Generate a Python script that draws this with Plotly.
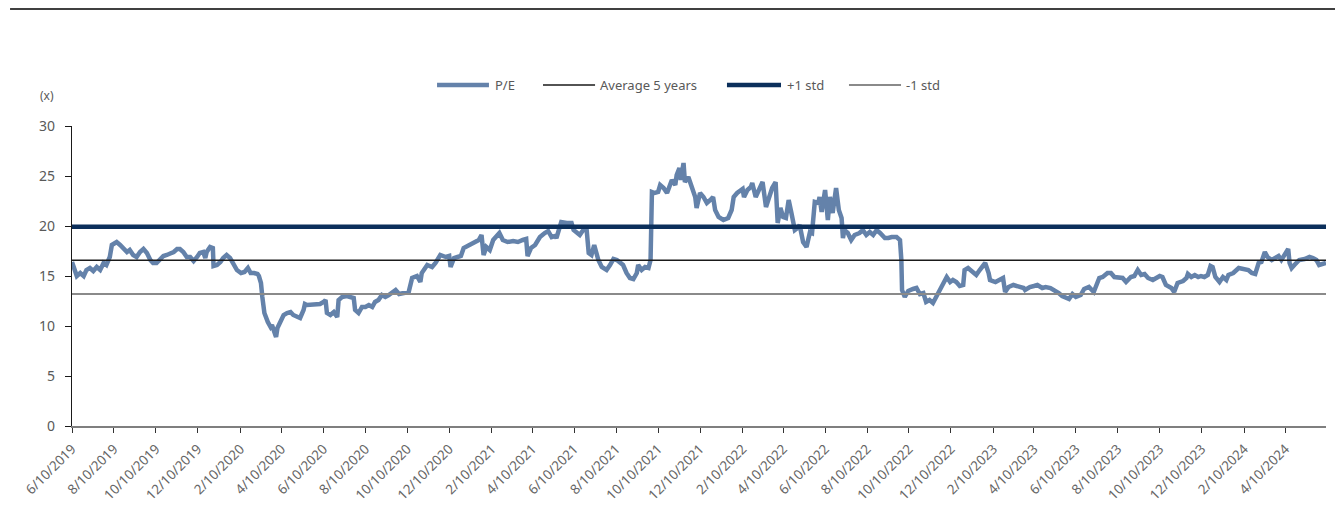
import pandas as pd
import plotly.graph_objects as go

# P/E readings (date, multiple)
pe_dates = [
    "2019-06-10", "2019-06-17", "2019-06-22", "2019-06-27",
    "2019-07-01", "2019-07-06", "2019-07-11", "2019-07-16", "2019-07-21", "2019-07-26", "2019-07-30",
    "2019-08-04", "2019-08-07", "2019-08-14", "2019-08-19", "2019-08-24", "2019-08-29",
    "2019-09-02", "2019-09-07", "2019-09-12", "2019-09-17", "2019-09-22", "2019-09-27",
    "2019-10-02", "2019-10-06", "2019-10-11", "2019-10-16", "2019-10-21", "2019-10-26", "2019-10-31",
    "2019-11-05", "2019-11-10", "2019-11-14", "2019-11-19", "2019-11-24", "2019-11-29",
    "2019-12-04", "2019-12-09", "2019-12-13", "2019-12-18", "2019-12-21", "2019-12-23", "2019-12-28",
    "2020-01-01", "2020-01-02", "2020-01-07", "2020-01-12", "2020-01-16", "2020-01-21", "2020-01-26", "2020-01-31",
    "2020-02-05", "2020-02-11", "2020-02-16", "2020-02-21", "2020-02-25",
    "2020-03-01", "2020-03-06", "2020-03-08", "2020-03-11", "2020-03-13", "2020-03-16", "2020-03-21", "2020-03-25", "2020-03-27", "2020-03-30",
    "2020-04-02", "2020-04-04", "2020-04-09", "2020-04-13", "2020-04-18", "2020-04-23", "2020-04-27",
    "2020-05-02", "2020-05-07", "2020-05-12", "2020-05-14", "2020-05-17", "2020-05-22", "2020-05-27",
    "2020-06-01", "2020-06-05", "2020-06-10", "2020-06-13", "2020-06-15", "2020-06-20", "2020-06-25", "2020-06-30",
    "2020-07-02", "2020-07-07", "2020-07-14", "2020-07-19", "2020-07-24", "2020-07-26", "2020-07-31",
    "2020-08-05", "2020-08-10", "2020-08-15", "2020-08-20", "2020-08-24", "2020-08-29",
    "2020-09-03", "2020-09-08", "2020-09-13", "2020-09-18", "2020-09-23", "2020-09-28",
    "2020-10-05", "2020-10-12", "2020-10-17", "2020-10-24", "2020-10-29", "2020-10-31",
    "2020-11-08", "2020-11-15", "2020-11-20", "2020-11-27",
    "2020-12-05", "2020-12-10", "2020-12-12", "2020-12-17", "2020-12-22", "2020-12-27", "2020-12-31",
    "2021-01-08", "2021-01-15", "2021-01-22", "2021-01-26", "2021-01-29",
    "2021-02-02", "2021-02-07", "2021-02-12", "2021-02-16", "2021-02-21", "2021-02-26",
    "2021-03-05", "2021-03-13", "2021-03-20", "2021-03-27",
    "2021-04-01", "2021-04-03", "2021-04-08", "2021-04-14", "2021-04-21", "2021-04-28",
    "2021-05-03", "2021-05-08", "2021-05-13", "2021-05-15", "2021-05-20", "2021-05-22", "2021-05-30",
    "2021-06-06", "2021-06-09", "2021-06-13", "2021-06-18", "2021-06-23", "2021-06-28",
    "2021-07-01", "2021-07-05", "2021-07-09", "2021-07-12", "2021-07-15", "2021-07-20", "2021-07-27",
    "2021-08-01", "2021-08-06", "2021-08-11", "2021-08-16", "2021-08-20", "2021-08-25", "2021-08-30",
    "2021-09-04", "2021-09-09", "2021-09-11", "2021-09-16", "2021-09-21", "2021-09-26", "2021-09-29",
    "2021-10-01", "2021-10-05", "2021-10-10", "2021-10-13", "2021-10-18", "2021-10-23", "2021-10-27", "2021-10-30",
    "2021-11-04", "2021-11-06", "2021-11-10", "2021-11-12", "2021-11-16", "2021-11-18", "2021-11-23", "2021-11-28",
    "2021-12-03", "2021-12-05", "2021-12-10", "2021-12-15", "2021-12-20", "2021-12-25", "2021-12-29",
    "2022-01-01", "2022-01-06", "2022-01-13", "2022-01-20", "2022-01-25", "2022-01-28",
    "2022-02-02", "2022-02-10", "2022-02-12", "2022-02-17", "2022-02-22", "2022-02-24",
    "2022-03-01", "2022-03-06", "2022-03-11", "2022-03-16", "2022-03-20", "2022-03-25", "2022-03-30",
    "2022-04-02", "2022-04-06", "2022-04-10", "2022-04-14", "2022-04-18", "2022-04-22", "2022-04-27",
    "2022-05-01", "2022-05-04", "2022-05-09", "2022-05-14", "2022-05-19", "2022-05-22", "2022-05-26", "2022-05-31",
    "2022-06-02", "2022-06-05", "2022-06-10", "2022-06-14", "2022-06-17", "2022-06-21", "2022-06-26", "2022-06-30",
    "2022-07-04", "2022-07-06", "2022-07-08", "2022-07-13", "2022-07-18", "2022-07-23", "2022-07-30",
    "2022-08-04", "2022-08-09", "2022-08-14", "2022-08-19", "2022-08-24", "2022-08-29",
    "2022-09-05", "2022-09-10", "2022-09-15", "2022-09-22", "2022-09-27", "2022-09-29", "2022-09-30",
    "2022-10-04", "2022-10-09", "2022-10-16", "2022-10-21", "2022-10-26", "2022-10-31",
    "2022-11-04", "2022-11-09", "2022-11-14", "2022-11-19", "2022-11-24", "2022-11-29",
    "2022-12-04", "2022-12-09", "2022-12-13", "2022-12-18", "2022-12-23", "2022-12-28", "2022-12-30",
    "2023-01-04", "2023-01-11", "2023-01-16", "2023-01-21", "2023-01-29",
    "2023-02-03", "2023-02-05", "2023-02-13", "2023-02-20", "2023-02-24", "2023-02-27",
    "2023-03-04", "2023-03-11", "2023-03-19", "2023-03-26", "2023-03-28",
    "2023-04-04", "2023-04-10", "2023-04-15", "2023-04-22", "2023-04-27",
    "2023-05-04", "2023-05-12", "2023-05-16", "2023-05-21", "2023-05-26", "2023-05-31",
    "2023-06-05", "2023-06-10", "2023-06-17", "2023-06-22", "2023-06-29",
    "2023-07-06", "2023-07-14", "2023-07-19", "2023-07-26", "2023-07-31",
    "2023-08-05", "2023-08-10", "2023-08-17", "2023-08-22", "2023-08-29",
    "2023-09-03", "2023-09-08", "2023-09-13", "2023-09-18", "2023-09-23", "2023-09-30",
    "2023-10-05", "2023-10-10", "2023-10-14", "2023-10-19", "2023-10-27", "2023-10-31",
    "2023-11-05", "2023-11-13", "2023-11-18", "2023-11-20", "2023-11-25", "2023-11-30",
    "2023-12-05", "2023-12-09", "2023-12-14", "2023-12-19", "2023-12-23", "2023-12-26", "2023-12-30",
    "2024-01-05", "2024-01-10", "2024-01-15", "2024-01-18", "2024-01-25",
    "2024-02-02", "2024-02-09", "2024-02-16", "2024-02-21", "2024-02-26",
    "2024-03-02", "2024-03-06", "2024-03-11", "2024-03-15", "2024-03-21", "2024-03-26", "2024-03-31",
    "2024-04-04", "2024-04-07", "2024-04-11", "2024-04-14", "2024-04-16", "2024-04-19", "2024-04-23", "2024-04-30",
    "2024-05-08", "2024-05-15", "2024-05-20", "2024-05-25", "2024-05-29",
    "2024-06-03", "2024-06-08",
]

pe_values = [
    16.4, 15.0, 15.3, 15.0,
    15.6, 15.8, 15.5, 15.9, 15.6, 16.3, 16.1,
    16.9, 18.1, 18.4, 18.1, 17.8, 17.4,
    17.6, 17.1, 16.9, 17.4, 17.7, 17.3,
    16.6, 16.3, 16.3, 16.7, 17.0, 17.1, 17.2,
    17.4, 17.7, 17.7, 17.4, 16.9, 16.9,
    16.5, 16.9, 17.3, 17.4, 16.8, 17.4, 17.9,
    17.8, 16.0, 16.1, 16.4, 16.8, 17.1, 16.8, 16.1,
    15.6, 15.3, 15.4, 15.8, 15.3,
    15.3, 15.2, 15.0, 14.3, 12.9, 11.3, 10.4, 9.9, 10.1, 9.4,
    8.9, 9.8, 10.6, 11.1, 11.3, 11.4, 11.1,
    10.9, 10.8, 11.6, 12.2, 12.1, 12.1, 12.2,
    12.1, 12.2, 12.4, 12.6, 11.3, 11.1, 11.4, 10.9,
    12.6, 12.9, 13.0, 12.9, 12.8, 11.6, 11.3,
    11.9, 11.9, 12.1, 11.9, 12.4, 12.6,
    13.1, 12.9, 13.1, 13.3, 13.6, 13.2,
    13.3, 13.4, 14.8, 15.0, 14.4, 15.3,
    16.1, 15.9, 16.3, 17.1,
    16.9, 17.0, 15.9, 16.8, 16.9, 17.0, 17.8,
    18.1, 18.3, 18.6, 19.1, 17.1,
    17.9, 17.6, 18.6, 18.9, 19.3, 18.6,
    18.4, 18.5, 18.4, 18.6,
    18.7, 17.0, 17.8, 18.1, 18.9, 19.3,
    19.5, 18.9, 19.0, 18.8, 19.9, 20.4, 20.3,
    20.3, 19.6, 19.4, 19.1, 19.6, 19.6,
    17.3, 17.1, 18.1, 17.4, 16.6, 15.9, 15.6,
    16.1, 16.7, 16.6, 16.3, 16.1, 15.3, 14.8,
    14.7, 15.3, 16.1, 15.6, 15.9, 15.8, 16.6,
    23.4, 23.3, 23.4, 24.1, 23.8, 23.3, 23.9, 24.6,
    24.1, 25.1, 25.8, 24.6, 26.3, 24.4, 24.9, 23.9,
    22.9, 21.8, 23.3, 22.9, 22.3, 22.6, 22.9,
    21.6, 20.9, 20.6, 20.8, 21.6, 22.9,
    23.3, 23.7, 22.9, 23.6, 23.9, 24.3,
    22.9, 23.7, 24.4, 21.9, 22.9, 23.8, 24.4,
    20.3, 21.8, 20.9, 20.8, 22.6, 21.3, 19.6,
    19.8, 20.1, 18.4, 17.9, 19.4, 19.3, 22.4, 22.3,
    22.9, 21.4, 23.6, 20.6, 22.9, 21.3, 23.8, 21.6,
    20.8, 18.8, 19.6, 19.3, 18.6, 19.1, 19.3,
    19.6, 19.1, 19.4, 19.1, 19.6, 19.3,
    18.8, 18.8, 18.9, 18.9, 18.6, 16.6, 13.6,
    12.9, 13.5, 13.7, 13.8, 13.2, 13.3,
    12.4, 12.6, 12.3, 12.9, 13.7, 14.3,
    14.9, 14.4, 14.6, 14.4, 14.0, 14.1, 15.6,
    15.8, 15.3, 15.1, 15.6, 16.3,
    15.3, 14.6, 14.4, 14.6, 14.8, 13.4,
    13.9, 14.1, 13.9, 13.8, 13.6,
    13.9, 14.0, 14.1, 13.8, 13.9,
    13.8, 13.5, 13.3, 13.0, 12.9, 12.7,
    13.2, 12.9, 13.1, 13.7, 13.9,
    13.4, 14.8, 14.9, 15.3, 15.3,
    14.9, 14.9, 14.8, 14.4, 14.9,
    15.0, 15.6, 15.1, 15.2, 14.8, 14.6,
    14.8, 15.0, 14.9, 14.1, 13.8, 13.4,
    14.3, 14.5, 14.8, 15.2, 14.9, 15.1,
    14.9, 15.0, 14.9, 15.1, 16.0, 15.9, 14.9,
    14.4, 14.9, 14.6, 15.1, 15.3,
    15.8, 15.7, 15.6, 15.3, 15.2,
    16.3, 16.4, 17.4, 16.9, 16.6, 16.8, 17.0,
    16.6, 16.9, 17.3, 17.7, 16.3, 15.8, 16.1, 16.6,
    16.7, 16.9, 16.8, 16.6, 16.1,
    16.2, 16.3,
]

# 5-year band
avg_5y = 16.57
std_5y = 3.36
x_start = "2019-06-10"
x_end = "2024-06-08"

assert len(pe_dates) == len(pe_values)

df = pd.DataFrame({"date": pd.to_datetime(pe_dates), "pe": pe_values})
band_x = [x_start, x_end]

# name, colour, width, legend line start/end, text start (paper x)
series_style = [
    ("P/E", "#6482AA", 4.5, 0.2911, 0.3325, 0.3357),
    ("Average 5 years", "#1a1a1a", 1.6, 0.3756, 0.4171, 0.4195),
    ("+1 std", "#0B2F5B", 4.5, 0.5223, 0.5654, 0.5686),
    ("-1 std", "#8a8a8a", 2, 0.6196, 0.6611, 0.6635),
]

fig = go.Figure()

line_values = [
    (df["date"], df["pe"]),
    (band_x, [avg_5y, avg_5y]),
    (band_x, [avg_5y + std_5y] * 2),
    (band_x, [avg_5y - std_5y] * 2),
]

for (name, color, width, _, _, _), (xs, ys) in zip(series_style, line_values):
    fig.add_trace(
        go.Scatter(x=xs, y=ys, mode="lines", name=name,
                   line=dict(color=color, width=width))
    )

# legend drawn by hand so spacing matches
legend_y = 1.1367
shapes = [
    dict(type="line", xref="paper", yref="paper",
         x0=-0.0494, x1=1.0072, y0=1.39, y1=1.39,
         line=dict(color="black", width=1.5)),
]
annotations = [
    dict(text="(x)", xref="paper", yref="paper", x=-0.02, y=1.103,
         xanchor="center", yanchor="middle", showarrow=False,
         font=dict(size=12, color="#595959")),
]
for name, color, width, lx0, lx1, tx in series_style:
    shapes.append(dict(type="line", xref="paper", yref="paper",
                       x0=lx0, x1=lx1, y0=legend_y, y1=legend_y,
                       line=dict(color=color, width=width)))
    annotations.append(dict(text=name, xref="paper", yref="paper",
                            x=tx, y=legend_y, xanchor="left", yanchor="middle",
                            showarrow=False,
                            font=dict(size=13, color="#595959")))

fig.update_layout(
    width=1336,
    height=500,
    margin=dict(l=64, r=18, t=118, b=82, autoexpand=False),
    paper_bgcolor="white",
    plot_bgcolor="white",
    font=dict(family="Noto Sans, Lato, sans-serif", size=13, color="#595959"),
    showlegend=False,
    xaxis=dict(
        type="date",
        range=[x_start, x_end],
        tick0="2019-06-10",
        dtick="M2",
        tickformat="%-m/%-d/%Y",
        tickangle=-45,
        ticks="outside",
        ticklen=5,
        tickcolor="#333333",
        ticklabelstandoff=3,
        showline=True,
        linecolor="#7f7f7f",
        linewidth=1.5,
        showgrid=False,
        zeroline=False,
        automargin=False,
        tickfont=dict(size=13.5, color="#666666"),
    ),
    yaxis=dict(
        range=[0, 30],
        tick0=0,
        dtick=5,
        ticks="outside",
        ticklen=6,
        tickcolor="#1a1a1a",
        ticklabelstandoff=7,
        showline=True,
        linecolor="#1a1a1a",
        linewidth=1.2,
        showgrid=False,
        zeroline=False,
        automargin=False,
        tickfont=dict(size=14, color="#595959"),
    ),
    shapes=shapes,
    annotations=annotations,
)

fig.write_html("out.html")
